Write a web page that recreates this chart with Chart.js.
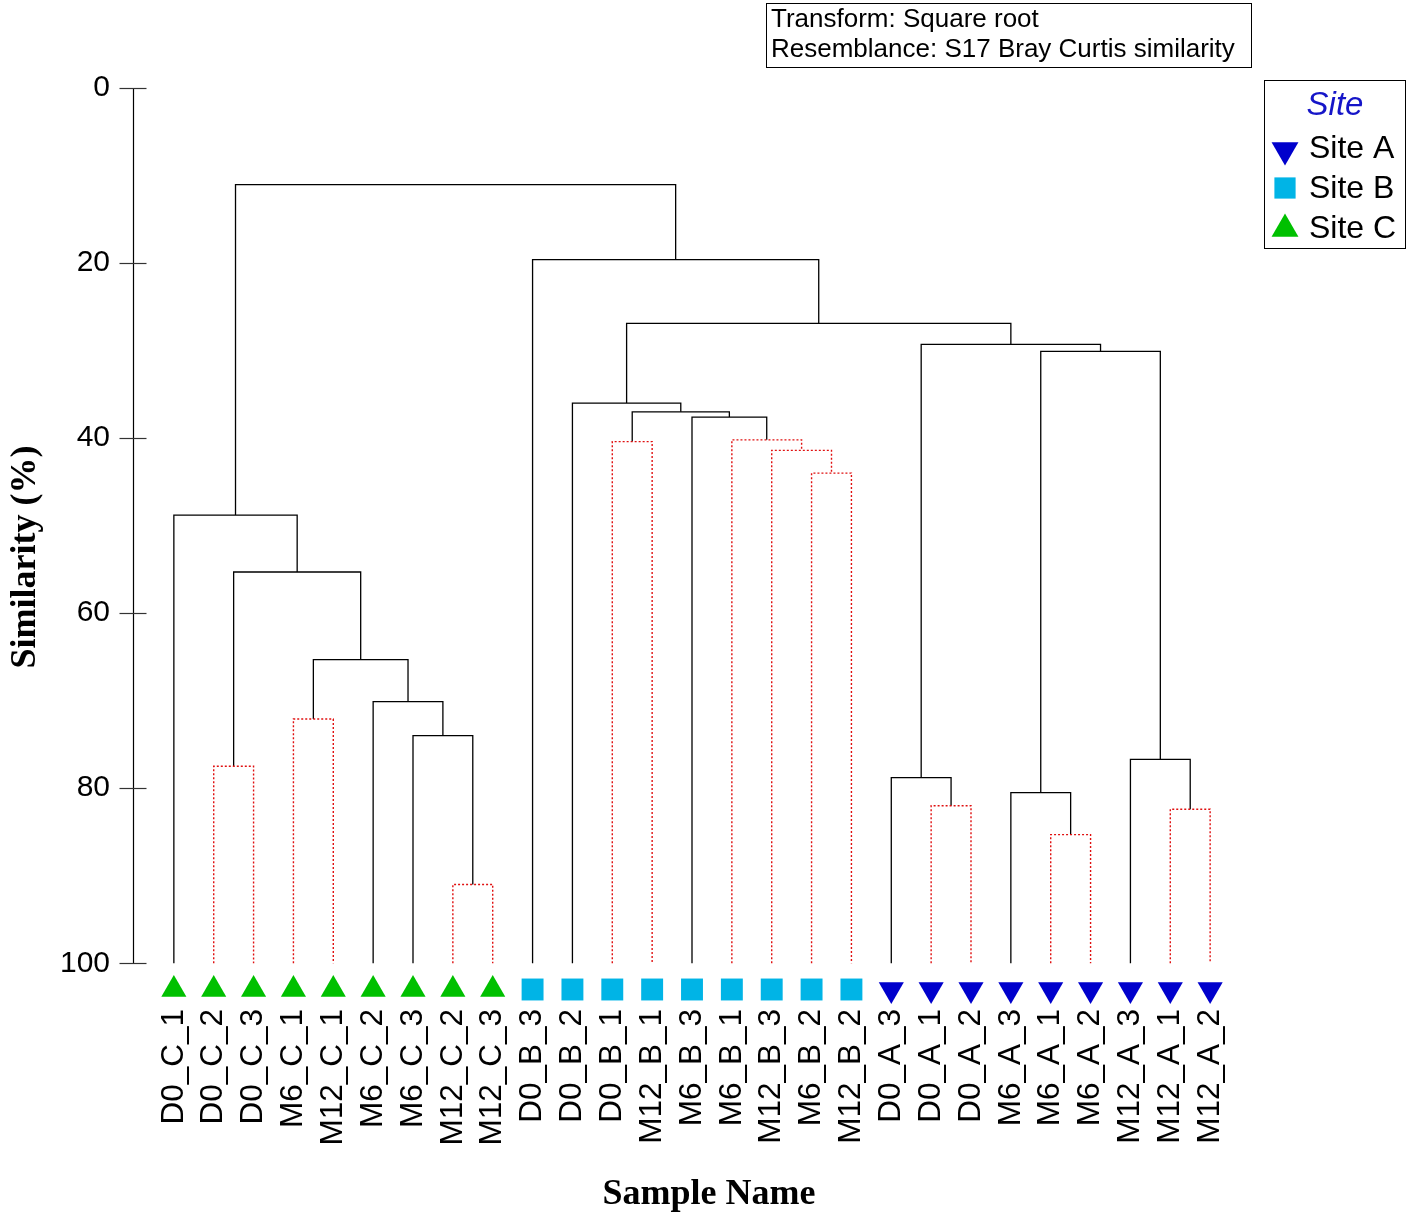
<!DOCTYPE html>
<html>
<head>
<meta charset="utf-8">
<title>Dendrogram - Bray Curtis similarity</title>
<script src="https://cdn.jsdelivr.net/npm/chart.js@4.4.1/dist/chart.umd.min.js"></script>
<style>
  html, body { margin: 0; padding: 0; background: #fff; }
  canvas { display: block; }
</style>
</head>
<body>
<canvas id="dendro" width="1421" height="1217"></canvas>
<script>
// samples in leaf order, left to right
const leafLabels = [
  'D0_C_1', 'D0_C_2', 'D0_C_3', 'M6_C_1', 'M12_C_1', 'M6_C_2', 'M6_C_3', 'M12_C_2', 'M12_C_3',
  'D0_B_3', 'D0_B_2', 'D0_B_1', 'M12_B_1', 'M6_B_3', 'M6_B_1', 'M12_B_3', 'M6_B_2', 'M12_B_2',
  'D0_A_3', 'D0_A_1', 'D0_A_2', 'M6_A_3', 'M6_A_1', 'M6_A_2', 'M12_A_3', 'M12_A_1', 'M12_A_2'
];
const leafSites = [
  'C', 'C', 'C', 'C', 'C', 'C', 'C', 'C', 'C',
  'B', 'B', 'B', 'B', 'B', 'B', 'B', 'B', 'B',
  'A', 'A', 'A', 'A', 'A', 'A', 'A', 'A', 'A'
];
const siteKeys = ['A', 'B', 'C'];
const siteNames = ['Site A', 'Site B', 'Site C'];

// merges: ids 0-26 are leaves, merge k gets id 27 + k
const mergeLeft  = [1, 3, 7, 6, 5, 28, 27, 0, 16, 15, 14, 13, 11, 39, 10, 19, 18, 22, 21, 25, 24, 45, 43, 41, 9, 34];
const mergeRight = [2, 4, 8, 29, 30, 31, 32, 33, 17, 35, 36, 37, 12, 38, 40, 20, 42, 23, 44, 26, 46, 47, 48, 49, 50, 51];
const mergeSim   = [77.5, 72.1, 91.0, 74.0, 70.1, 65.3, 55.3, 48.8, 44.0, 41.4, 40.2, 37.6, 40.4, 37.0, 36.0,
                    82.0, 78.8, 85.3, 80.5, 82.4, 76.7, 30.1, 29.3, 26.9, 19.6, 11.05];
// false = no significant structure (drawn red dotted)
const mergeSignif = [false, false, false, true, true, true, true, true, false, false, false, true, false, true, true,
                     false, true, false, true, false, true, true, true, true, true, true];

const yTicks = [0, 20, 40, 60, 80, 100];

// styling
const siteColors = { A: '#0000cc', B: '#00b4e6', C: '#00c000' };
const siteStyles = { A: 'triangle', B: 'rect', C: 'triangle' };
const siteRotation = { A: 180, B: 0, C: 0 };
const siteRadius = { A: 14.5, B: 15.5, C: 14.5 };
const markerRow = 103;   // marker row just under the 100 line
const sansFont = "'Liberation Sans', Arial, sans-serif";
const serifFont = "'Liberation Serif', 'Times New Roman', serif";

Chart.defaults.font.family = sansFont;
Chart.defaults.color = '#000';

// build the tree segments
const nodeX = leafLabels.map((_, i) => i);
const nodeH = leafLabels.map(() => 100);
const datasets = [];
mergeLeft.forEach((l, k) => {
  const r = mergeRight[k];
  const h = mergeSim[k];
  const sig = mergeSignif[k];
  datasets.push({
    type: 'scatter',
    showLine: true,
    data: [
      { x: nodeX[l], y: nodeH[l] },
      { x: nodeX[l], y: h },
      { x: nodeX[r], y: h },
      { x: nodeX[r], y: nodeH[r] }
    ],
    borderColor: sig ? '#000' : '#e01010',
    borderWidth: sig ? 1.3 : 1.4,
    borderDash: sig ? [] : [2, 2],
    pointRadius: 0,
    tension: 0,
    order: 2
  });
  nodeX.push((nodeX[l] + nodeX[r]) / 2);
  nodeH.push(h);
});

siteKeys.forEach((s, i) => {
  datasets.push({
    type: 'scatter',
    label: siteNames[i],
    data: leafSites.map((site, j) => site === s ? { x: j, y: markerRow } : null).filter(p => p),
    pointStyle: siteStyles[s],
    rotation: siteRotation[s],
    pointRadius: siteRadius[s],
    pointBorderWidth: 0,
    backgroundColor: siteColors[s],
    borderColor: siteColors[s],
    showLine: false,
    order: 1
  });
});

const decorPlugin = {
  id: 'decor',
  afterDraw(chart) {
    const ctx = chart.ctx;
    const y = chart.scales.y;
    const area = chart.chartArea;
    ctx.save();

    // y axis line with crossing ticks
    const ax = Math.round(area.left) - 0.5;
    ctx.strokeStyle = '#000';
    ctx.lineWidth = 1.2;
    ctx.beginPath();
    ctx.moveTo(ax, y.getPixelForValue(yTicks[0]));
    ctx.lineTo(ax, y.getPixelForValue(yTicks[yTicks.length - 1]));
    ctx.stroke();
    ctx.strokeStyle = '#333';
    yTicks.forEach(v => {
      const py = Math.round(y.getPixelForValue(v)) + 0.5;
      ctx.beginPath();
      ctx.moveTo(ax - 14, py);
      ctx.lineTo(ax + 13, py);
      ctx.stroke();
    });

    // axis titles
    ctx.fillStyle = '#000';
    ctx.font = 'bold 36px ' + serifFont;
    ctx.textAlign = 'center';
    ctx.textBaseline = 'middle';
    ctx.fillText('Sample Name', 709, 1195);
    ctx.save();
    ctx.translate(26, 557);
    ctx.rotate(-Math.PI / 2);
    ctx.fillText('Similarity (%)', 0, 0);
    ctx.restore();

    // info box
    ctx.lineWidth = 1;
    ctx.strokeStyle = '#000';
    ctx.strokeRect(766.5, 3.5, 485, 64);
    ctx.font = '26px ' + sansFont;
    ctx.textAlign = 'left';
    ctx.textBaseline = 'alphabetic';
    ctx.fillText('Transform: Square root', 771, 27);
    ctx.fillText('Resemblance: S17 Bray Curtis similarity', 771, 57);

    // site legend
    ctx.strokeRect(1264.5, 80.5, 141, 168);
    ctx.fillStyle = '#1515c8';
    ctx.font = 'italic 33px ' + sansFont;
    ctx.textAlign = 'center';
    ctx.fillText('Site', 1335, 115);
    const rowMid = [150, 188, 229];
    const rowBase = [158, 198, 238];
    siteKeys.forEach((s, i) => {
      ctx.fillStyle = siteColors[s];
      Chart.helpers.drawPoint(ctx, {
        pointStyle: siteStyles[s],
        rotation: siteRotation[s],
        radius: s === 'B' ? 15 : 15.5,
        borderWidth: 0
      }, 1285, rowMid[i]);
      ctx.fillStyle = '#000';
      ctx.font = '32px ' + sansFont;
      ctx.textAlign = 'left';
      ctx.fillText(siteNames[i], 1309, rowBase[i]);
    });
    ctx.restore();
  }
};

new Chart(document.getElementById('dendro'), {
  type: 'scatter',
  data: { datasets: datasets },
  options: {
    responsive: false,
    animation: false,
    devicePixelRatio: 1,
    events: [],
    layout: { padding: { top: 88, right: 171, left: 0, bottom: 0 } },
    plugins: {
      legend: { display: false },
      tooltip: { enabled: false }
    },
    scales: {
      x: {
        type: 'linear',
        min: -1,
        max: leafLabels.length,
        grid: { display: false, drawTicks: false },
        border: { display: false },
        afterBuildTicks: s => { s.ticks = leafLabels.map((_, i) => ({ value: i })); },
        afterFit: s => { s.height = 210; },
        ticks: {
          autoSkip: false,
          minRotation: 90,
          maxRotation: 90,
          padding: 2,
          font: { size: 31.5 },
          color: '#000',
          callback: v => leafLabels[v] ?? ''
        }
      },
      y: {
        type: 'linear',
        reverse: true,
        min: 0,
        max: 105,
        grid: { display: false, drawTicks: false },
        border: { display: false },
        afterBuildTicks: s => { s.ticks = yTicks.map(v => ({ value: v })); },
        afterFit: s => { s.width = 134; },
        ticks: {
          padding: 24,
          font: { size: 30 },
          color: '#000'
        }
      }
    }
  },
  plugins: [decorPlugin]
});
</script>
</body>
</html>
